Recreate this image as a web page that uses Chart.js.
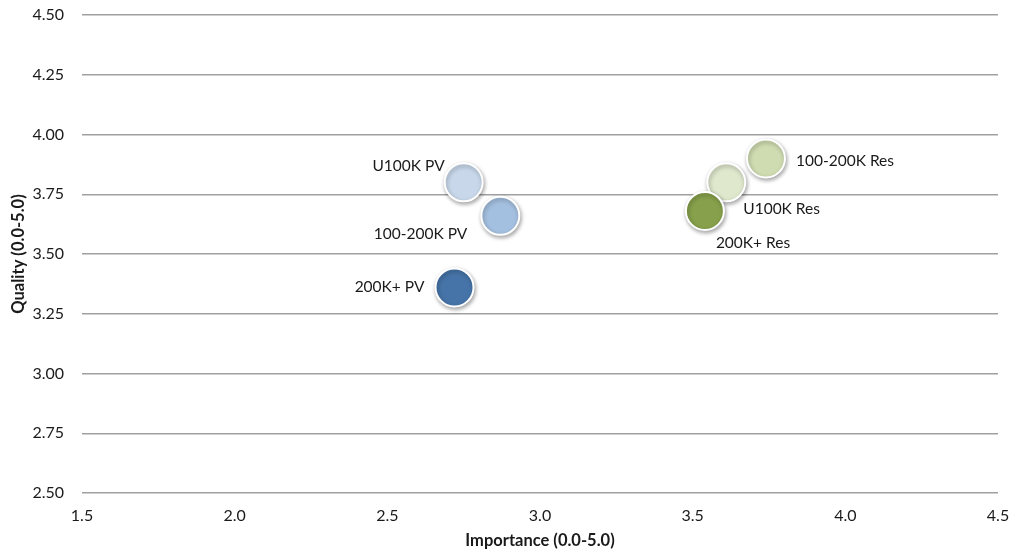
<!DOCTYPE html>
<html><head><meta charset="utf-8">
<script src="https://cdn.jsdelivr.net/npm/chart.js@4.4.1/dist/chart.umd.min.js"></script>
<style>html,body{margin:0;padding:0;background:#fff;}#wrap{width:1016px;height:557px;}</style>
</head><body><div id="wrap"><canvas id="c" width="1016" height="557"></canvas></div>
<script>
const categories = ["U100K PV", "100-200K PV", "200K+ PV", "U100K Res", "100-200K Res", "200K+ Res"];
const importance = [2.75, 2.87, 2.72, 3.61, 3.74, 3.54];
const quality = [3.80, 3.66, 3.36, 3.80, 3.90, 3.68];
const pointColors = ["#c8d8ea", "#a4c0e0", "#4674a8", "#dfe7cd", "#cfdcb1", "#86a04b"];
const xTicks = [1.5, 2.0, 2.5, 3.0, 3.5, 4.0, 4.5];
const yTicks = [2.50, 2.75, 3.00, 3.25, 3.50, 3.75, 4.00, 4.25, 4.50];

// label placement (style): [anchor side, dx, dy]
const labelPlacement = [
  ["right", -19, -16], ["right", -33, 18], ["right", -30, 0],
  ["left", 17, 27], ["left", 30, 3], ["left", 11, 32]
];

const FONT = "Lato, 'Open Sans', sans-serif";
const labelPlugin = {
  id: 'pointLabels',
  beforeDatasetsDraw(chart) {
    const ctx = chart.ctx;
    ctx.save();
    ctx.shadowColor = 'rgba(0,0,0,0.35)';
    ctx.shadowBlur = 4;
    ctx.shadowOffsetX = 1;
    ctx.shadowOffsetY = 2;
  },
  afterDatasetsDraw(chart) {
    const ctx = chart.ctx;
    ctx.restore();
    ctx.save();
    ctx.font = "15.5px " + FONT;
    ctx.fillStyle = "#1a1a1a";
    ctx.textBaseline = "middle";
    const meta = chart.getDatasetMeta(0);
    meta.data.forEach((pt, i) => {
      const [side, dx, dy] = labelPlacement[i];
      ctx.textAlign = side;
      ctx.fillText(categories[i], pt.x + dx, pt.y + dy);
    });
    ctx.restore();
  }
};

new Chart(document.getElementById('c'), {
  type: 'scatter',
  data: {
    datasets: [{
      data: importance.map((x, i) => ({x: x, y: quality[i]})),
      pointBackgroundColor: pointColors,
      pointBorderColor: '#ffffff',
      pointBorderWidth: 2,
      pointRadius: 19,
      pointHoverRadius: 19
    }]
  },
  options: {
    responsive: false,
    animation: false,
    devicePixelRatio: 1,
    layout: {autoPadding: false, padding: {top: 15, right: 18, left: 0, bottom: 0}},
    plugins: {legend: {display: false}, tooltip: {enabled: false}},
    scales: {
      x: {
        type: 'linear', min: 1.5, max: 4.5,
        afterBuildTicks: s => { s.ticks = xTicks.map(v => ({value: v})); },
        afterFit: s => { s.height = 64; s.paddingLeft = 0; s.paddingRight = 0; },
        grid: {display: false, drawTicks: false},
        border: {display: false},
        ticks: {padding: 13, color: '#1a1a1a', font: {family: FONT, size: 16}, callback: v => v.toFixed(1)},
        title: {display: true, text: 'Importance (0.0-5.0)', color: '#1a1a1a', font: {family: FONT, size: 16.5, weight: 'bold'}, padding: {top: 0, bottom: 6}}
      },
      y: {
        type: 'linear', min: 2.5, max: 4.5,
        afterBuildTicks: s => { s.ticks = yTicks.map(v => ({value: v})); },
        afterFit: s => { s.width = 82; s.paddingTop = 0; s.paddingBottom = 0; },
        grid: {color: '#a0a0a0', lineWidth: 1.5, drawTicks: false},
        border: {display: false},
        ticks: {padding: 18, color: '#1a1a1a', font: {family: FONT, size: 16}, callback: v => v.toFixed(2)},
        title: {display: true, text: 'Quality (0.0-5.0)', color: '#1a1a1a', font: {family: FONT, size: 16.5, weight: 'bold'}, padding: {top: 8.5, bottom: 0}}
      }
    }
  },
  plugins: [labelPlugin]
});
</script></body></html>
